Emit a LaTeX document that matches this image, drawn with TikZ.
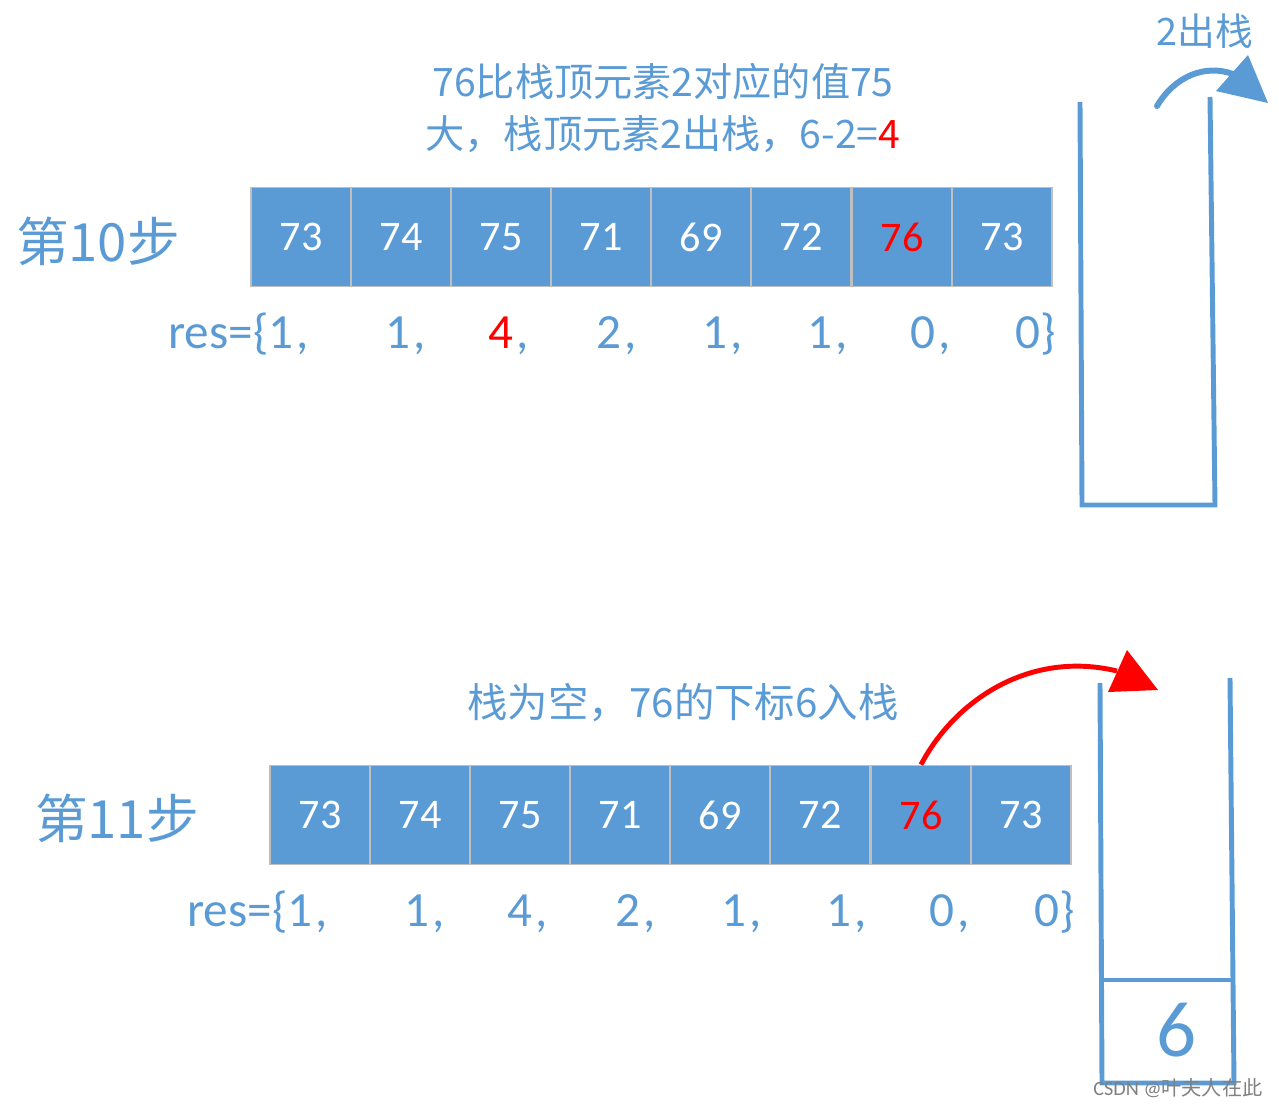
\documentclass[tikz,border=0pt]{standalone}
\usepackage{fontspec}
\setmainfont{Carlito}
\newfontfamily\cjk{Noto Sans CJK SC}
\usetikzlibrary{calc}
\definecolor{boxblue}{HTML}{5B9BD5}
\definecolor{boxedge}{HTML}{BFBFBF}
\def\cm{\kern2pt,}

\tikzset{
	cell/.style={draw=boxedge, line width=1pt, fill=boxblue, text=white, minimum width=2cm, minimum height=1.98cm, inner sep=0pt, font=\fontsize{24}{24}\selectfont},
	resitem/.style={anchor=base west, inner sep=0pt, text=boxblue, font=\fontsize{28}{28}\selectfont},
	steplabel/.style={text=boxblue, font=\cjk\fontsize{30}{30}\selectfont},
	note/.style={text=boxblue, font=\cjk\fontsize{22.3}{29.5}\selectfont, align=center},
	stackwall/.style={draw=boxblue, line width=2.8pt},
}

\begin{document}
\begin{tikzpicture}[x=0.02cm,y=-0.02cm]
			%%%%% START %%%%%
			\def\ytop{237}
			\def\ybot{815}
			\def\restop{348}
			\def\resbot{926}
			\useasboundingbox (0,0) rectangle (1279,1109);
			
			% step 10
			\node[steplabel] (stepten) at (98,241) {第10步};
			\node[note] (popnote) at (663,108) {76比栈顶元素2对应的值75\\大，栈顶元素2出栈，6-2=\textcolor{red}{4}};
			
			\node[cell] (a1) at (301,\ytop) {73};
			\node[cell] (a2) at (401,\ytop) {74};
			\node[cell] (a3) at (501,\ytop) {75};
			\node[cell] (a4) at (601,\ytop) {71};
			\node[cell] (a5) at (701,\ytop) {69};
			\node[cell] (a6) at (801,\ytop) {72};
			\node[cell,text=red] (a7) at (902,\ytop) {76};
			\node[cell] (a8) at (1002,\ytop) {73};
			
			\node[resitem] (ra1) at (168,\restop) {res=\{1\cm};
			\node[resitem] (ra2) at (385,\restop) {1\cm};
			\node[resitem] (ra3) at (488,\restop) {\textcolor{red}{4}\cm};
			\node[resitem] (ra4) at (596,\restop) {2\cm};
			\node[resitem] (ra5) at (702,\restop) {1\cm};
			\node[resitem] (ra6) at (807,\restop) {1\cm};
			\node[resitem] (ra7) at (910,\restop) {0\cm};
			\node[resitem] (ra8) at (1015,\restop) {0\}};
			
			% stack one
			\draw[stackwall] (1080,102) -- (1082,505) -- (1215,505) -- (1210,97);
			\coordinate (popstart) at (1157,106);
			\coordinate (popend) at (1233,74);
			\draw[boxblue, line width=3.4pt, line cap=round] (popstart) .. controls (1175,76) and (1205,64) .. (popend);
			\fill[boxblue] (1248,55) -- (1268,103) -- (1216,91) -- cycle;
			\node[text=boxblue, font=\cjk\fontsize{21.5}{21.5}\selectfont] (poplabel) at (1205,31) {2出栈};
			
			% step 11
			\node[steplabel] (stepeleven) at (117,818) {第11步};
			\node[note, font=\cjk\fontsize{23}{23}\selectfont] (pushnote) at (683,703) {栈为空，76的下标6入栈};
			
			\node[cell] (b1) at (320,\ybot) {73};
			\node[cell] (b2) at (420,\ybot) {74};
			\node[cell] (b3) at (520,\ybot) {75};
			\node[cell] (b4) at (620,\ybot) {71};
			\node[cell] (b5) at (720,\ybot) {69};
			\node[cell] (b6) at (820,\ybot) {72};
			\node[cell,text=red] (b7) at (921,\ybot) {76};
			\node[cell] (b8) at (1021,\ybot) {73};
			
			\node[resitem] (rb1) at (187,\resbot) {res=\{1\cm};
			\node[resitem] (rb2) at (404,\resbot) {1\cm};
			\node[resitem] (rb3) at (507,\resbot) {4\cm};
			\node[resitem] (rb4) at (615,\resbot) {2\cm};
			\node[resitem] (rb5) at (721,\resbot) {1\cm};
			\node[resitem] (rb6) at (826,\resbot) {1\cm};
			\node[resitem] (rb7) at (929,\resbot) {0\cm};
			\node[resitem] (rb8) at (1034,\resbot) {0\}};
			
			% stack two
			\draw[stackwall] (1100,683) -- (1102,1083) -- (1234,1083) -- (1230,678);
			\draw[stackwall] (1102,980) -- (1232,980);
			\node[text=boxblue, font=\fontsize{45}{45}\selectfont] (six) at (1177,1030) {6};
			
			\coordinate (pushend) at (1117,671);
			\draw[red, line width=2.8pt] (b7.north) .. controls (955,700) and (1030,650) .. (pushend);
			\fill[red] (1127,650) -- (1158,690) -- (1108,692) -- cycle;
			
			\node[text=gray, font=\fontsize{11.5}{11.5}\selectfont] (mark) at (1178,1088) {CSDN @{\cjk 叶夫人在此}};
			%%%%% END %%%%%
\end{tikzpicture}
\end{document}
